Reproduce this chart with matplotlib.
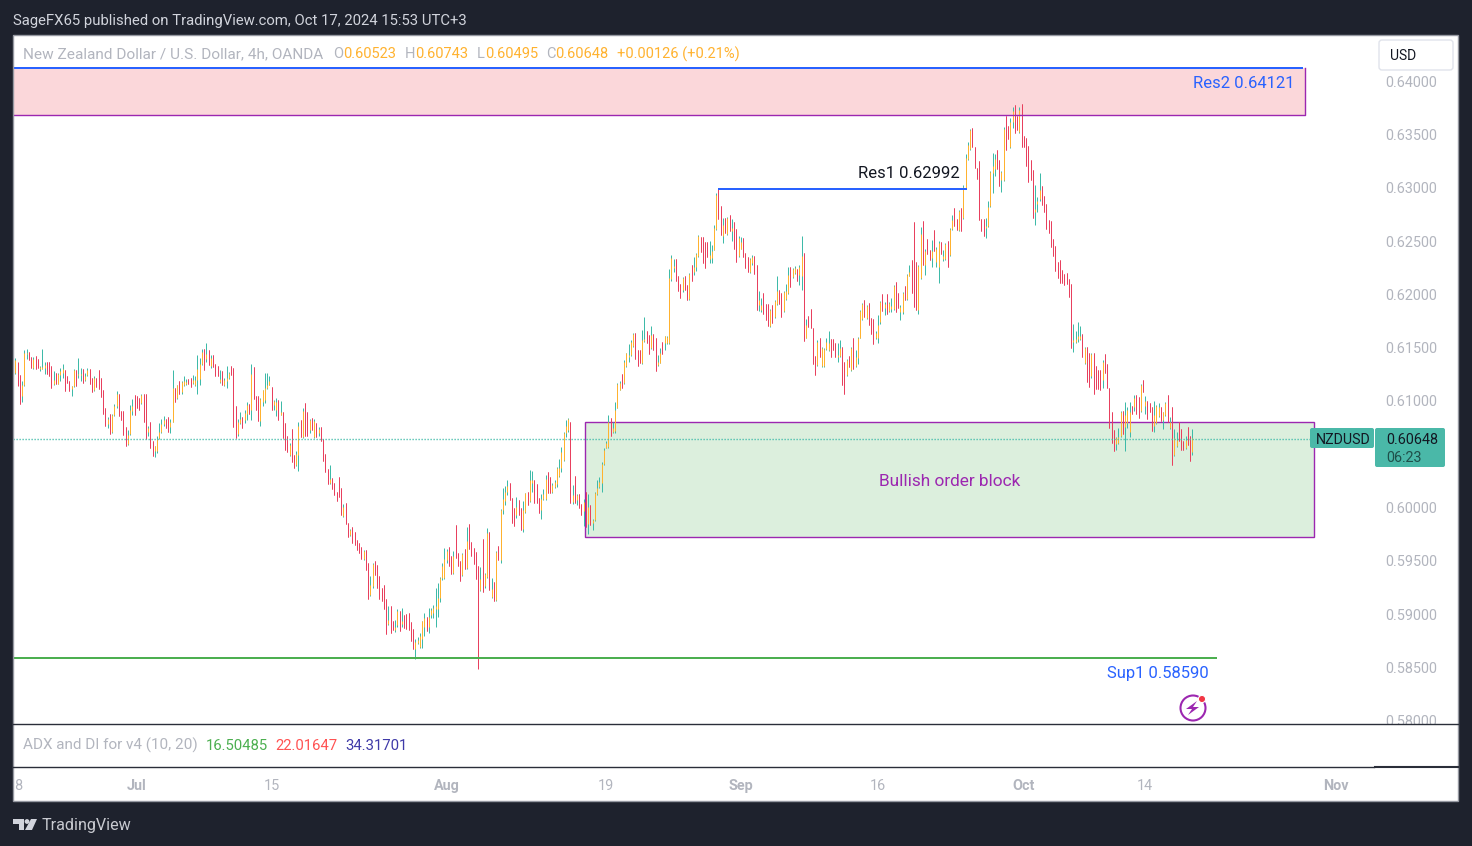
import matplotlib
matplotlib.use("Agg")
import matplotlib.pyplot as plt
from matplotlib.patches import Rectangle, FancyBboxPatch, Polygon, Circle

# 4h bars: (open, high, low, close), in pips (1e-4)
jun_bars = [
    (6126,6140,6125,6138),(6136,6137,6114,6115),(6124,6124,6097,6097),(6105,6119,6099,6115),(6115,6148,6114,6145),(6144,6149,6139,6145),
    (6146,6146,6138,6138),(6141,6141,6131,6131),(6131,6141,6130,6139),(6142,6142,6130,6130),(6139,6139,6131,6131),(6130,6133,6128,6132),
    (6130,6149,6130,6132),(6131,6137,6125,6134),(6137,6137,6125,6125),(6137,6137,6123,6123),(6133,6133,6112,6112),(6116,6128,6115,6120),
    (6126,6126,6116,6116),(6116,6126,6116,6125),(6124,6131,6119,6128),(6126,6135,6122,6130),(6129,6129,6109,6109),(6123,6123,6117,6117),
    (6119,6119,6109,6109),(6111,6114,6105,6114),(6114,6130,6113,6129),(6129,6129,6114,6114),(6124,6140,6122,6125),(6124,6131,6119,6125),
    (6130,6130,6117,6117),(6120,6126,6119,6123),(6124,6131,6123,6129),(6130,6130,6116,6116),(6122,6122,6108,6108),(6110,6123,6109,6122),
    (6122,6122,6113,6113),(6129,6129,6111,6111),(6122,6122,6104,6104),(6110,6110,6088,6088),(6093,6093,6077,6077),(6078,6085,6075,6083),
    (6088,6088,6069,6069),(6071,6088,6070,6087),(6087,6097,6086,6095),(6095,6109,6093,6107),(6107,6107,6086,6086),(6091,6091,6082,6082),
    (6091,6091,6068,6068),(6076,6076,6058,6058),(6060,6073,6059,6068),(6069,6096,6068,6092),(6091,6102,6087,6095),(6106,6106,6087,6087),
]
jul_bars = [
    (6105,6105,6093,6093),(6103,6103,6092,6092),(6098,6107,6097,6106),(6107,6107,6080,6080),(6107,6107,6064,6064),(6071,6077,6067,6075),
    (6080,6080,6056,6056),(6062,6062,6048,6048),(6053,6058,6047,6058),(6053,6067,6051,6064),(6065,6079,6064,6071),(6071,6083,6070,6078),
    (6078,6086,6077,6082),(6083,6083,6075,6075),(6085,6085,6071,6071),(6076,6083,6070,6080),(6080,6129,6080,6112),(6112,6112,6099,6099),
    (6103,6115,6102,6115),(6119,6119,6107,6107),(6108,6119,6107,6118),(6115,6123,6114,6119),(6116,6121,6115,6118),(6121,6121,6116,6116),
    (6122,6122,6113,6113),(6117,6124,6116,6120),(6115,6123,6114,6120),(6120,6143,6107,6130),(6121,6140,6115,6135),(6135,6149,6134,6146),
    (6149,6149,6129,6129),(6139,6154,6137,6144),(6148,6148,6134,6134),(6133,6143,6131,6140),(6143,6143,6132,6132),(6135,6135,6123,6123),
    (6133,6133,6123,6123),(6118,6129,6117,6121),(6128,6128,6115,6115),(6115,6122,6114,6120),(6119,6133,6112,6122),(6122,6127,6121,6126),
    (6133,6133,6124,6124),(6131,6131,6076,6076),(6095,6095,6065,6065),(6069,6083,6067,6080),(6079,6090,6078,6083),(6085,6085,6075,6075),
    (6082,6092,6079,6089),(6088,6099,6082,6096),(6097,6097,6088,6088),(6092,6135,6082,6125),(6132,6132,6102,6102),(6105,6105,6092,6092),
    (6105,6105,6081,6081),(6081,6103,6077,6102),(6099,6110,6095,6110),(6101,6126,6098,6112),(6112,6126,6111,6115),(6115,6123,6115,6119),
    (6113,6113,6092,6092),(6096,6101,6092,6100),(6092,6103,6086,6099),(6101,6101,6082,6082),(6087,6100,6087,6090),(6090,6090,6065,6065),
    (6079,6079,6054,6054),(6067,6067,6052,6052),(6049,6061,6048,6059),(6074,6074,6043,6043),(6049,6049,6037,6037),(6040,6053,6039,6050),
    (6049,6080,6034,6077),(6082,6082,6066,6066),(6066,6093,6065,6091),(6098,6098,6067,6067),(6090,6090,6067,6067),(6073,6083,6070,6082),
    (6084,6084,6073,6073),(6066,6083,6065,6081),(6079,6079,6066,6066),(6070,6076,6067,6074),(6076,6076,6062,6062),(6064,6064,6044,6044),
    (6050,6050,6033,6033),(6036,6036,6022,6022),(6023,6040,6022,6027),(6028,6028,6017,6017),(6023,6023,6012,6012),(6015,6015,6006,6006),
    (6029,6029,6010,6010),(6018,6018,5993,5993),(5992,6003,5991,6001),(6004,6004,5985,5985),(5986,5986,5972,5972),(5974,5980,5973,5979),
    (5982,5982,5967,5967),(5977,5977,5965,5965),(5970,5970,5960,5960),(5967,5967,5957,5957),(5963,5963,5952,5952),(5952,5960,5951,5959),
    (5960,5960,5941,5941),(5948,5948,5914,5914),(5918,5936,5917,5927),(5926,5948,5925,5947),(5950,5950,5937,5937),(5946,5946,5925,5925),
    (5936,5936,5914,5914),(5925,5925,5912,5912),(5927,5927,5905,5905),(5914,5914,5881,5881),(5891,5908,5890,5895),(5908,5908,5882,5882),
    (5894,5894,5885,5885),(5885,5895,5883,5888),(5890,5905,5888,5903),(5903,5903,5884,5884),(5891,5906,5888,5894),(5899,5899,5887,5887),
    (5900,5900,5886,5886),(5901,5901,5885,5885),(5893,5893,5875,5875),(5886,5886,5867,5867),(5867,5877,5858,5874),(5873,5879,5872,5876),
    (5869,5882,5868,5880),(5877,5894,5868,5894),(5888,5901,5880,5896),(5897,5897,5884,5884),(5888,5906,5882,5897),(5899,5906,5896,5904),
    (5901,5909,5896,5906),(5905,5925,5888,5908),(5905,5929,5897,5915),(5915,5935,5911,5934),(5934,5948,5932,5945),(5934,5962,5933,5952),
]
aug_bars = [
    (5951,5961,5948,5959),(5963,5963,5945,5945),(5955,5955,5938,5938),(5939,5959,5938,5955),(5984,5984,5953,5953),(5957,5957,5945,5945),
    (5950,5950,5931,5931),(5937,5957,5936,5956),(5961,5961,5942,5942),(5943,5982,5942,5969),(5985,5985,5961,5961),(5968,5968,5955,5955),
    (5962,5962,5947,5947),(5958,5958,5933,5933),(5945,5945,5849,5925),(5923,5944,5922,5933),(5971,5971,5921,5921),(5926,5939,5925,5938),
    (5935,5981,5934,5976),(5977,5977,5923,5923),(5916,5934,5915,5924),(5930,5930,5912,5912),(5913,5959,5912,5958),(5964,5964,5951,5951),
    (5951,5999,5948,5998),(5998,6018,5994,6008),(6006,6020,6002,6015),(6015,6026,6012,6020),(6023,6023,6007,6007),(6009,6009,5986,5986),
    (6000,6000,5983,5983),(5993,6010,5990,6001),(6007,6007,5993,5993),(6000,6000,5979,5979),(5980,6006,5977,5998),(5996,6014,5995,6014),
    (6015,6015,6002,6002),(6006,6035,6005,6026),(6023,6034,6015,6026),(6026,6026,6004,6004),(6022,6022,6004,6004),(6009,6009,5995,5995),
    (5998,6013,5989,6008),(6008,6017,6007,6013),(6008,6031,6007,6027),(6033,6033,6014,6014),(6029,6029,6014,6014),(6015,6023,6014,6021),
    (6019,6026,6018,6024),(6022,6038,6019,6037),(6030,6046,6029,6037),(6037,6057,6033,6052),(6045,6071,6044,6070),(6070,6082,6066,6077),
    (6073,6084,6071,6083),(6080,6080,6004,6004),(6005,6021,6003,6012),(6030,6030,6004,6004),(6007,6013,6002,6012),(6013,6013,6000,6000),
    (6003,6003,5993,5993),(5997,6008,5983,6005),(6015,6015,5982,5982),(5985,6013,5975,6001),(6002,6002,5984,5984),
    (5986,5989,5979,5988),(5988,6015,5987,6014),(6013,6026,6012,6018),(6019,6029,6018,6024),(6023,6043,6015,6041),(6041,6056,6040,6054),
    (6056,6062,6056,6061),(6057,6087,6056,6080),(6084,6084,6067,6067),(6071,6080,6070,6075),(6072,6099,6070,6092),(6093,6117,6093,6116),(6110,6119,6110,6117),
    (6125,6125,6112,6112),(6117,6138,6116,6137),(6133,6145,6132,6145),(6141,6153,6137,6143),(6143,6157,6142,6155),(6152,6164,6151,6163),
    (6164,6164,6139,6139),(6148,6148,6133,6133),(6148,6148,6136,6136),(6136,6167,6135,6157),(6156,6179,6155,6158),(6166,6166,6154,6154),
    (6162,6162,6144,6144),(6150,6170,6149,6162),(6163,6163,6148,6148),(6159,6159,6128,6128),(6134,6143,6133,6137),(6136,6150,6136,6145),
    (6155,6155,6144,6144),(6154,6161,6148,6161),(6154,6161,6153,6160),(6154,6224,6153,6215),(6214,6237,6213,6234),(6225,6233,6221,6227),
    (6233,6233,6213,6213),(6217,6217,6203,6203),(6210,6210,6197,6197),(6204,6216,6202,6215),(6217,6217,6204,6204),(6209,6209,6195,6195),
    (6196,6220,6195,6219),(6228,6228,6213,6213),(6221,6235,6218,6226),(6226,6239,6222,6238),(6236,6256,6235,6255),(6254,6254,6240,6240),
    (6254,6254,6229,6229),(6249,6249,6225,6225),(6249,6249,6235,6235),(6233,6250,6229,6237),(6234,6246,6229,6241),(6242,6265,6242,6262),
    (6261,6295,6260,6293),(6300,6300,6271,6271),(6283,6283,6256,6256),(6255,6272,6248,6265),(6272,6272,6258,6258),(6257,6273,6256,6272),
    (6274,6274,6259,6259),(6259,6271,6250,6262),(6268,6268,6243,6243),(6261,6261,6230,6230),(6236,6255,6235,6253),(6243,6254,6243,6249),
]
sep_bars = [
    (6253,6253,6235,6235),(6239,6239,6225,6225),(6235,6235,6221,6221),(6221,6234,6220,6233),(6229,6237,6228,6235),(6236,6236,6219,6219),
    (6228,6228,6185,6185),(6190,6203,6184,6195),(6185,6197,6183,6190),(6201,6201,6182,6182),(6191,6191,6176,6176),(6191,6191,6170,6170),
    (6170,6186,6169,6185),(6190,6190,6173,6173),(6179,6195,6178,6194),(6191,6217,6190,6203),(6204,6204,6191,6191),(6201,6201,6179,6179),
    (6184,6203,6183,6202),(6196,6210,6195,6203),(6201,6226,6200,6218),(6226,6226,6207,6207),(6216,6225,6215,6224),(6220,6227,6219,6225),
    (6224,6224,6213,6213),(6218,6228,6209,6226),(6217,6255,6204,6236),(6239,6239,6156,6156),(6159,6177,6159,6171),(6180,6180,6169,6169),
    (6186,6186,6168,6168),(6168,6168,6135,6135),(6142,6142,6124,6124),(6134,6157,6133,6155),(6159,6159,6141,6141),(6133,6151,6132,6150),
    (6133,6150,6132,6149),(6149,6159,6148,6155),(6148,6166,6147,6154),(6158,6158,6141,6141),(6158,6158,6148,6148),(6154,6154,6141,6141),
    (6141,6154,6137,6143),(6142,6157,6141,6150),(6151,6151,6115,6115),(6137,6137,6107,6107),(6124,6139,6123,6138),(6142,6142,6132,6132),
    (6129,6151,6128,6150),(6159,6159,6130,6130),(6133,6148,6132,6141),(6140,6160,6135,6159),(6159,6185,6159,6184),(6177,6192,6176,6191),
    (6195,6195,6179,6179),(6178,6190,6177,6189),(6192,6192,6171,6171),(6178,6178,6163,6163),(6177,6177,6153,6153),(6159,6166,6158,6164),
    (6159,6181,6154,6171),(6174,6194,6172,6193),(6200,6200,6184,6184),(6187,6193,6181,6191),(6200,6200,6182,6182),(6184,6193,6183,6192),
    (6186,6197,6183,6189),(6186,6209,6185,6208),(6212,6212,6183,6183),(6201,6201,6187,6187),(6183,6190,6176,6188),(6183,6202,6182,6201),
    (6208,6208,6195,6195),(6196,6219,6195,6218),(6217,6228,6217,6221),(6232,6232,6201,6201),(6268,6268,6188,6188),(6230,6230,6185,6185),
    (6185,6228,6182,6227),(6215,6263,6214,6257),(6269,6269,6228,6228),(6228,6243,6218,6241),(6252,6252,6238,6238),(6242,6242,6232,6232),
    (6234,6251,6226,6241),(6260,6260,6241,6241),(6230,6244,6226,6243),(6226,6250,6211,6248),(6249,6249,6238,6238),(6233,6242,6231,6236),
    (6233,6248,6232,6247),(6250,6250,6226,6226),(6237,6262,6236,6261),(6261,6274,6260,6270),(6281,6281,6264,6264),(6271,6271,6260,6260),
    (6260,6279,6259,6278),(6281,6281,6259,6259),(6272,6303,6271,6301),(6300,6332,6300,6328),(6327,6343,6326,6340),(6336,6355,6335,6354),
    (6356,6356,6338,6338),(6338,6338,6319,6319),(6319,6319,6308,6308),(6325,6325,6270,6270),(6271,6271,6259,6259),(6271,6271,6255,6255),
    (6262,6272,6253,6264),(6264,6288,6263,6282),(6283,6316,6282,6315),(6314,6333,6295,6320),(6318,6332,6311,6327),(6335,6335,6318,6318),
    (6326,6326,6302,6302),(6307,6316,6296,6315),(6307,6357,6306,6355),(6367,6367,6335,6335),(6358,6358,6346,6346),(6338,6365,6337,6362),
    (6362,6376,6356,6372),(6378,6378,6351,6351),(6367,6367,6354,6354),(6352,6376,6351,6373),(6379,6379,6338,6338),(6349,6349,6338,6338),
]
oct_bars = [
    (6347,6347,6320,6320),(6339,6339,6305,6305),(6326,6326,6307,6307),(6317,6317,6272,6272),(6277,6303,6265,6280),(6285,6291,6277,6288),
    (6289,6314,6288,6298),(6302,6302,6284,6284),(6292,6292,6277,6277),(6285,6285,6261,6261),(6270,6270,6258,6258),(6269,6269,6244,6244),
    (6252,6252,6236,6236),(6245,6245,6222,6222),(6230,6230,6215,6215),(6232,6232,6211,6211),(6223,6223,6211,6211),(6219,6219,6209,6209),
    (6220,6220,6210,6210),(6214,6214,6198,6198),(6210,6210,6150,6150),(6155,6172,6146,6157),(6155,6166,6154,6158),(6158,6174,6155,6161),
    (6158,6170,6157,6161),(6163,6163,6141,6141),(6136,6151,6135,6150),(6151,6151,6118,6118),(6145,6145,6113,6113),(6123,6145,6122,6144),
    (6145,6145,6107,6107),(6133,6133,6111,6111),(6129,6129,6111,6111),(6129,6129,6110,6110),(6120,6138,6112,6137),(6144,6144,6126,6126),
    (6135,6135,6112,6112),(6112,6112,6075,6075),(6090,6090,6061,6061),(6073,6073,6053,6053),(6060,6066,6054,6065),(6061,6075,6060,6066),
    (6067,6091,6066,6090),(6091,6091,6069,6069),(6076,6099,6053,6087),(6079,6094,6075,6092),(6071,6099,6066,6090),(6095,6095,6088,6088),
    (6094,6106,6091,6103),(6106,6106,6088,6088),(6104,6104,6084,6084),(6091,6116,6090,6115),(6120,6120,6108,6108),(6095,6105,6088,6100),
    (6100,6100,6083,6083),(6098,6098,6090,6090),(6094,6094,6072,6072),(6077,6100,6071,6087),(6079,6096,6078,6095),(6086,6098,6085,6094),
    (6094,6094,6081,6081),(6082,6090,6074,6090),(6087,6099,6086,6098),(6106,6106,6080,6080),(6075,6085,6074,6080),(6094,6094,6040,6040),
    (6049,6074,6048,6065),(6058,6071,6057,6063),(6080,6080,6062,6062),(6074,6074,6054,6054),(6062,6062,6054,6054),(6056,6067,6055,6063),
    (6076,6076,6059,6059),(6067,6067,6044,6044),(6052,6074,6049,6065),
]

# axis ticks: label and bar number counted from the first bar
time_labels = ["18", "Jul", "15", "Aug", "19", "Sep", "16", "Oct", "14", "Nov"]
time_bars = [0, 54, 114, 192, 263, 323, 384, 449, 503, 588]
month_labels = ["Jul", "Aug", "Sep", "Oct", "Nov"]
price_ticks = [0.580, 0.585, 0.590, 0.595, 0.600, 0.610, 0.615, 0.620, 0.625, 0.630, 0.635, 0.640]

# drawn levels and zones
res2_level = 0.64121
res1_level = 0.62992
sup1_level = 0.58590
last_price = 0.60648
supply_zone = (0.6368, 0.64121)
order_block = (0.59724, 0.60803)

W, H = 1472, 846
PANEL_L, PANEL_R, PANEL_T, PANEL_B = 13, 1458, 35, 801
MAIN_B = 724
TIME_T = 768
X0, BAR_PX = 15.5, 2.246
DARK = "#1e222d"
GREY = "#b2b5be"
TEAL = "#3ebaa8"
RED = "#e8405e"
ORANGE = "#ffb22f"
BLUE = "#2962ff"
PURPLE = "#9c27b0"
GREEN = "#4caf50"
BOX = "#4ab8a8"
FONT = "Roboto"


def rect_axes(fig, left, top, right, bottom):
    return fig.add_axes([left / W, 1 - bottom / H, (right - left) / W, (bottom - top) / H])


def px_to_bar(px):
    return (px - X0) / BAR_PX


def draw_bars(ax):
    bars = jun_bars + jul_bars + aug_bars + sep_bars + oct_bars
    xs = list(range(len(bars)))
    opens = [b[0] / 1e4 for b in bars]
    highs = [b[1] / 1e4 for b in bars]
    lows = [b[2] / 1e4 for b in bars]
    closes = [b[3] / 1e4 for b in bars]
    up = [c >= o for o, c in zip(opens, closes)]
    ax.vlines(xs, lows, highs, colors=[TEAL if u else RED for u in up], lw=0.72, zorder=3)
    ax.vlines(xs, [min(o, c) for o, c in zip(opens, closes)], [max(o, c) for o, c in zip(opens, closes)],
              colors=[ORANGE if u else RED for u in up], lw=0.72, zorder=4)


def draw_zones(ax):
    x1 = px_to_bar(PANEL_L)
    x2 = px_to_bar(1305)
    ax.add_patch(Rectangle((x1, supply_zone[0]), x2 - x1, supply_zone[1] - supply_zone[0],
                           fc="#fbd7da", ec="none", zorder=1))
    ax.plot([x1, x2, x2], [supply_zone[0], supply_zone[0], supply_zone[1]], color=PURPLE, lw=1, zorder=5)
    ax.plot([x1, px_to_bar(1302)], [res2_level, res2_level], color=BLUE, lw=1.44, zorder=5)

    b1 = px_to_bar(585)
    b2 = px_to_bar(1314)
    ax.add_patch(Rectangle((b1, order_block[0]), b2 - b1, order_block[1] - order_block[0],
                           fc="#dcefdd", ec=PURPLE, lw=1, zorder=2))
    ax.plot([px_to_bar(719), px_to_bar(966)], [res1_level, res1_level], color=BLUE, lw=1.44, zorder=5)
    ax.plot([px_to_bar(PANEL_L), px_to_bar(1216)], [sup1_level, sup1_level], color=GREEN, lw=1.44, zorder=5)
    ax.plot([x1, px_to_bar(1310)], [last_price, last_price], color=TEAL, lw=1, ls=(0, (0.9, 1.26)), zorder=5)

    ax.text(px_to_bar(1294), 0.63982, "Res2 0.64121", color=BLUE, fontsize=12, ha="right", va="center", zorder=6)
    ax.text(px_to_bar(909), 0.63132, "Res1 0.62992", color="#131722", fontsize=12, ha="center", va="center", zorder=6)
    ax.text(px_to_bar(950), 0.60245, "Bullish order block", color=PURPLE, fontsize=12.4, ha="center", va="center", zorder=6)
    ax.text(px_to_bar(1209), 0.58442, "Sup1 0.58590", color=BLUE, fontsize=12, ha="right", va="center", zorder=6)


def draw_page(page):
    page.text(13, 20.5, "SageFX65 published on TradingView.com, Oct 17, 2024 15:53 UTC+3",
              color="#d1d4dc", fontsize=10.75, va="center")
    # legend row, pieces placed one after the other
    page.text(23, 54.5, "New Zealand Dollar / U.S. Dollar, 4h, OANDA", color=GREY, fontsize=11.05, va="center")
    pieces = [(333, "O", GREY), (343, "0.60523", ORANGE),
              (405, "H", GREY), (415, "0.60743", ORANGE), (477, "L", GREY), (485, "0.60495", ORANGE),
              (546, "C", GREY), (555, "0.60648", ORANGE), (617, "+0.00126 (+0.21%)", ORANGE)]
    for x, txt, col in pieces:
        page.text(x, 54.5, txt, color=col, fontsize=10.5, va="center")
    page.text(23, 745.5, "ADX and DI for v4 (10, 20)", color=GREY, fontsize=11, va="center")
    adx = [(206, "16.50485", GREEN), (275, "22.01647", "#ff5252"), (345, "34.31701", "#3f3aa8")]
    for x, txt, col in adx:
        page.text(x, 745.5, txt, color=col, fontsize=10.7, va="center")

    page.add_patch(FancyBboxPatch((1379, 40), 74, 30, boxstyle="round,pad=0,rounding_size=3",
                                  fc="white", ec="#e0e3eb", lw=1))
    page.text(1390, 55.5, "USD", color="#131722", fontsize=10, va="center")

    page.add_patch(FancyBboxPatch((1310, 428), 64, 20, boxstyle="round,pad=0,rounding_size=2", fc=BOX, ec="none"))
    page.add_patch(FancyBboxPatch((1375, 428), 70, 39, boxstyle="round,pad=0,rounding_size=2", fc=BOX, ec="none"))
    page.text(1343, 440, "NZDUSD", color="#131722", fontsize=10.3, ha="center", va="center")
    page.text(1386, 439.5, "0.60648", color="#131722", fontsize=10.4, va="center")
    page.text(1386, 458, "06:23", color="#1f4f4a", fontsize=10.4, va="center")

    # alert icon
    page.add_patch(Circle((1193, 708), 12.5, fc="none", ec=PURPLE, lw=1.5))
    page.add_patch(Polygon([(1197, 701), (1186, 709), (1192, 709), (1188, 715), (1199, 707), (1193, 707)],
                           fc=PURPLE, ec="none"))
    page.add_patch(Circle((1202, 699), 3.6, fc="#f23645", ec="white", lw=0.8))

    # panel frame and separators
    page.add_patch(Rectangle((PANEL_L, PANEL_T), PANEL_R - PANEL_L, PANEL_B - PANEL_T, fc="none", ec="#9598a1", lw=1))
    page.plot([PANEL_L, PANEL_R], [MAIN_B, MAIN_B], color="#2a2e39", lw=1)
    page.plot([PANEL_L, 1374], [767.5, 767.5], color="#2a2e39", lw=1)
    page.plot([1375, PANEL_R], [767, 767], color="#2a2e39", lw=1.5)

    # footer logo
    page.add_patch(Polygon([(13, 819), (24, 819), (24, 830), (19, 830), (19, 824), (13, 824)], fc="#d1d4dc", ec="none"))
    page.add_patch(Circle((27, 821.5), 2.4, fc="#d1d4dc", ec="none"))
    page.add_patch(Polygon([(31, 819), (37, 819), (32, 830), (25, 830)], fc="#d1d4dc", ec="none"))
    page.text(42, 825.5, "TradingView", color="#c8cad0", fontsize=11.6, va="center")


def main():
    plt.rcParams['font.family'] = [FONT, 'DejaVu Sans']
    fig = plt.figure(figsize=(W / 100, H / 100), dpi=100, facecolor=DARK)

    bg = fig.add_axes([0, 0, 1, 1], zorder=0)
    bg.set_xlim(0, W)
    bg.set_ylim(H, 0)
    bg.axis("off")
    bg.add_patch(Rectangle((PANEL_L, PANEL_T), PANEL_R - PANEL_L, PANEL_B - PANEL_T, fc="white", ec="none"))

    ax = rect_axes(fig, PANEL_L, PANEL_T, PANEL_R, MAIN_B)
    ax.set_zorder(1)
    ax.patch.set_alpha(0)
    ax.set_xlim(px_to_bar(PANEL_L), px_to_bar(PANEL_R))
    ax.set_ylim(0.5797, 0.64433)
    for s in ax.spines.values():
        s.set_visible(False)
    ax.set_xticks([])
    ax.yaxis.tick_right()
    ax.set_yticks(price_ticks)
    ax.set_yticklabels(["%.5f" % p for p in price_ticks])
    ax.tick_params(axis="y", length=0, pad=-52.6, labelsize=10.4, labelcolor=GREY)
    for lab in ax.get_yticklabels():
        lab.set_clip_box(ax.bbox)
        lab.set_clip_on(True)
    draw_zones(ax)
    draw_bars(ax)

    ax_time = rect_axes(fig, PANEL_L, TIME_T, PANEL_R, PANEL_B)
    ax_time.set_zorder(1)
    ax_time.patch.set_alpha(0)
    ax_time.set_xlim(ax.get_xlim())
    ax_time.set_yticks([])
    for s in ax_time.spines.values():
        s.set_visible(False)
    ax_time.set_xticks(time_bars)
    ax_time.set_xticklabels(time_labels)
    ax_time.tick_params(axis="x", length=0, pad=-15.6, labelsize=10.4, labelcolor=GREY)
    for lab in ax_time.get_xticklabels():
        lab.set_clip_box(ax_time.bbox)
        lab.set_clip_on(True)
        if lab.get_text() in month_labels:
            lab.set_fontweight("bold")

    page = fig.add_axes([0, 0, 1, 1], zorder=3)
    page.set_xlim(0, W)
    page.set_ylim(H, 0)
    page.axis("off")
    draw_page(page)

    fig.savefig("out.png", dpi=100, facecolor=DARK)
    plt.close()


if __name__ == '__main__':
    main()
